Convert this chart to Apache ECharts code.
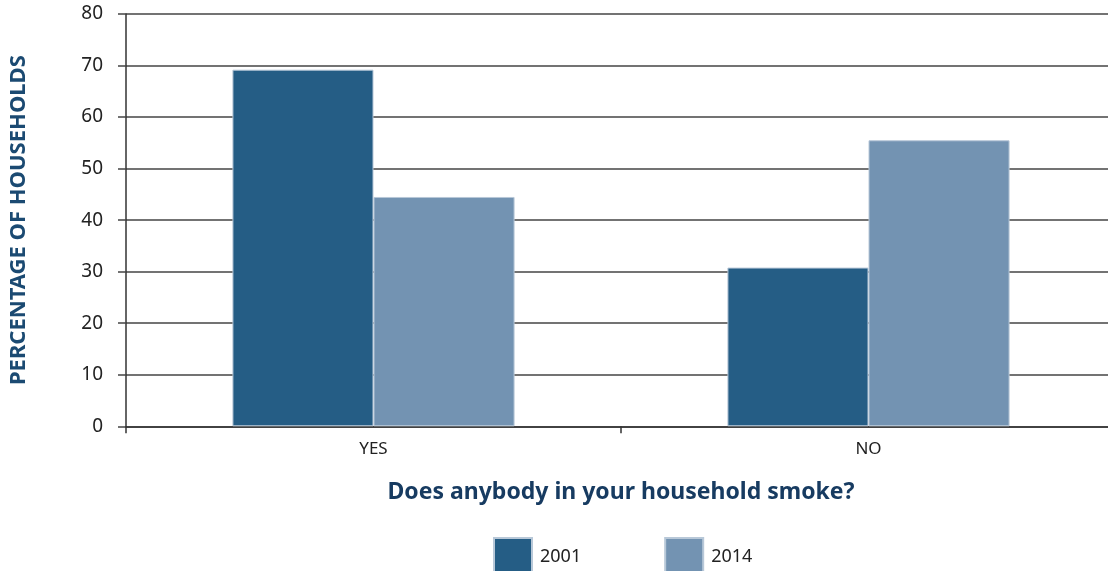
<!DOCTYPE html>
<html>
<head>
<meta charset="utf-8">
<script src="https://cdn.jsdelivr.net/npm/echarts@6/dist/echarts.min.js"></script>
<style>html,body{margin:0;padding:0;background:#fff}#c{width:1108px;height:571px}</style>
</head>
<body>
<div id="c"></div>
<script>
const categories = ['YES', 'NO'];
const series2001 = [69.2, 30.8];
const series2014 = [44.5, 55.5];
const seriesNames = ['2001', '2014'];

const FONT = 'Noto Sans';
const chart = echarts.init(document.getElementById('c'), null, {renderer: 'canvas'});
chart.setOption({
  animation: false,
  textStyle: {fontFamily: FONT},
  grid: {left: 126, width: 990, top: 14, bottom: 144.7, containLabel: false, outerBoundsMode: 'none'},
  legend: {
    data: seriesNames,
    left: 493, top: 537, padding: 0,
    itemWidth: 38, itemHeight: 38, itemGap: 83,
    icon: 'rect',
    textStyle: {fontFamily: FONT, fontSize: 18, color: '#222', padding: [0, 0, 0, 3]}
  },
  xAxis: {
    type: 'category',
    data: categories,
    boundaryGap: true,
    name: 'Does anybody in your household smoke?',
    nameLocation: 'middle',
    nameGap: 55,
    nameTextStyle: {fontFamily: FONT, fontSize: 23, fontWeight: 'bold', color: '#173b61'},
    axisLine: {lineStyle: {color: '#333', width: 1.5}},
    axisTick: {show: true, length: 7, lineStyle: {color: '#333', width: 1.5}},
    axisLabel: {fontFamily: FONT, fontSize: 17, color: '#222', margin: 14}
  },
  yAxis: {
    type: 'value',
    min: 0, max: 80, interval: 10,
    name: 'PERCENTAGE OF HOUSEHOLDS',
    nameLocation: 'middle',
    nameRotate: 90,
    nameGap: 96,
    nameTextStyle: {fontFamily: FONT, fontSize: 22, fontWeight: 'bold', color: '#1b4a72'},
    axisLine: {show: true, lineStyle: {color: '#333', width: 1.5}},
    axisTick: {show: true, length: 8, lineStyle: {color: '#444', width: 1.5}},
    splitLine: {show: true, lineStyle: {color: '#444', width: 1.5}},
    axisLabel: {fontFamily: FONT, fontSize: 19, color: '#222', margin: 23}
  },
  series: [
    {
      name: seriesNames[0], type: 'bar', data: series2001,
      barGap: '0%', barCategoryGap: '43%',
      itemStyle: {color: '#255d85', borderColor: '#b8c8d8', borderWidth: 1}
    },
    {
      name: seriesNames[1], type: 'bar', data: series2014,
      barGap: '0%', barCategoryGap: '43%',
      itemStyle: {color: '#7393b2', borderColor: '#b8c8d8', borderWidth: 1}
    }
  ]
});
</script>
</body>
</html>
